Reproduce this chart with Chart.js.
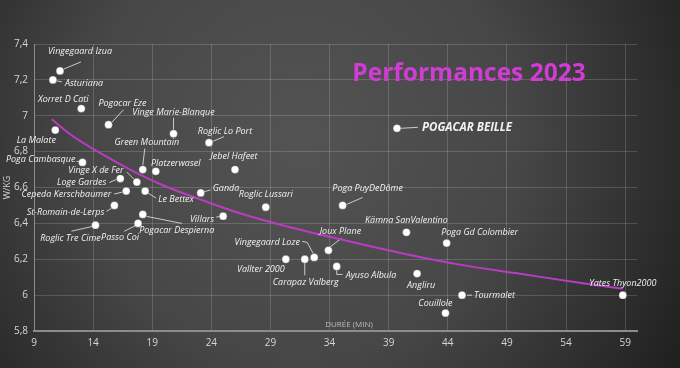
<!DOCTYPE html>
<html>
<head>
<meta charset="utf-8">
<script src="https://cdn.jsdelivr.net/npm/chart.js@4.4.1/dist/chart.umd.min.js"></script>
<style>
  body { margin: 0; background: #2a2a2a; }
  #wrap { width: 680px; height: 368px; }
</style>
</head>
<body>
<div id="wrap"><canvas id="perfChart" width="680" height="368"></canvas></div>
<script>
// climbs, duration in minutes, power in W/kg
var climbs = ['Vingegaard Izua', 'Asturiana', 'Xorret D Cati', 'Pogacar Eze', 'Vinge Marie-Blanque',
    'Roglic Lo Port', 'La Malate', 'Green Mountain', 'Poga Cambasque', 'Platzerwasel',
    'Vinge X de Fer', 'Loge Gardes', 'Cepeda Kerschbaumer', 'Le Bettex', 'St-Romain-de-Lerps',
    'Pogacar Despierna', 'Passo Coi', 'Roglic Tre Cime', 'Ganda', 'Villars',
    'Jebel Hafeet', 'Roglic Lussari', 'Poga PuyDeDôme', 'Kämna SanValentino', 'Poga Gd Colombier',
    'Joux Plane', 'Vingegaard Loze', 'Vallter 2000', 'Carapaz Valberg', 'Ayuso Albula',
    'Angliru', 'Couillole', 'Tourmalet', 'Yates Thyon2000', 'POGACAR BEILLE'];
var durations = [11.2, 10.6, 13.0, 15.3, 20.8,
    23.8, 10.8, 18.2, 13.1, 19.3,
    17.7, 16.3, 16.8, 18.4, 15.8,
    18.2, 17.8, 14.2, 23.1, 25.0,
    26.0, 28.6, 35.1, 40.5, 43.9,
    33.9, 32.7, 30.3, 31.9, 34.6,
    41.4, 43.8, 45.2, 58.8, 39.7];
var wkg = [7.25, 7.2, 7.04, 6.95, 6.9,
    6.85, 6.92, 6.7, 6.74, 6.69,
    6.63, 6.65, 6.58, 6.58, 6.5,
    6.45, 6.4, 6.39, 6.57, 6.44,
    6.7, 6.49, 6.5, 6.35, 6.29,
    6.25, 6.21, 6.2, 6.2, 6.16,
    6.12, 5.9, 6.0, 6.0, 6.93];

// trend curve
var trendX = [10.5, 12, 14, 16, 18, 20, 23, 26, 30, 35, 40, 45, 50, 55, 58.8];
var trendY = [6.98, 6.90, 6.815, 6.74, 6.67, 6.61, 6.535, 6.465, 6.39, 6.31, 6.235, 6.17, 6.12, 6.07, 6.035];

var xTicks = [9, 14, 19, 24, 29, 34, 39, 44, 49, 54, 59];
var yTicks = [5.8, 6, 6.2, 6.4, 6.6, 6.8, 7, 7.2, 7.4];

// label placement: [dx, dy, align, leader line points relative to the point]
var labelPos = {
    'Vingegaard Izua': [20, -19, 'center', [[4, -2], [21, -9]]],
    'Asturiana': [12, 4, 'left', [[4, 1], [9, 2]]],
    'Xorret D Cati': [-18, -9, 'center'],
    'Pogacar Eze': [14, -21, 'center', [[3, -2], [15, -15]]],
    'Vinge Marie-Blanque': [0, -21, 'center', [[0, -4], [0, -16]]],
    'Roglic Lo Port': [16, -11, 'center', [[3, -1], [15, -6]]],
    'La Malate': [-19, 10, 'center'],
    'Green Mountain': [4, -27, 'center', [[0, -4], [2, -21]]],
    'Poga Cambasque': [-7, -3, 'right', [[-6, -1], [-3, -1]]],
    'Platzerwasel': [20, -8, 'center'],
    'Vinge X de Fer': [-41, -12, 'center', [[-10, -10], [-3, -3]]],
    'Loge Gardes': [-14, 4, 'right', [[-11, 4], [-4, 1]]],
    'Cepeda Kerschbaumer': [-15, 3, 'right', [[-12, 3], [-4, 1]]],
    'Le Bettex': [13, 8, 'left', [[3, 2], [11, 7]]],
    'St-Romain-de-Lerps': [-10, 7, 'right', [[-8, 6], [-3, 3]]],
    'Pogacar Despierna': [34, 16, 'center', [[4, 2], [39, 9]]],
    'Passo Coi': [-18, 14, 'center', [[-2, 2], [-14, 8]]],
    'Roglic Tre Cime': [-25, 13, 'center', [[-2, 1], [-24, 6]]],
    'Ganda': [12, -4, 'left', [[3, -1], [10, -3]]],
    'Villars': [-9, 3, 'right', [[-7, 1], [-3, 0]]],
    'Jebel Hafeet': [-1, -13, 'center'],
    'Roglic Lussari': [0, -13, 'center'],
    'Poga PuyDeDôme': [25, -17, 'center', [[4, -1], [20, -8]]],
    'Kämna SanValentino': [0, -12, 'center'],
    'Poga Gd Colombier': [33, -11, 'center'],
    'Joux Plane': [12, -19, 'center', [[0, -2], [13, -12]]],
    'Vingegaard Loze': [-47, -15, 'center', [[-12, -16], [-7, -15], [-1, -4]]],
    'Vallter 2000': [-25, 10, 'center'],
    'Carapaz Valberg': [1, 23, 'center', [[0, 3], [0, 16]]],
    'Ayuso Albula': [9, 9, 'left', [[0, 3], [0, 8], [6, 8]]],
    'Angliru': [4, 12, 'center'],
    'Couillole': [-10, -10, 'center'],
    'Tourmalet': [12, 0, 'left', [[5, 0], [10, 0]]],
    'Yates Thyon2000': [0, -12, 'center'],
    'POGACAR BEILLE': [25, -1, 'left', [[4, 0], [21, -1]]]
};

var points = durations.map(function (d, i) {
    return { x: d, y: wkg[i] };
});
var trend = trendX.map(function (d, i) {
    return { x: d, y: trendY[i] };
});

var backdrop = {
    id: 'backdrop',
    beforeDraw: function (chart) {
        var c = chart.ctx;
        var g = c.createRadialGradient(300, 140, 10, 300, 140, 470);
        g.addColorStop(0, '#535353');
        g.addColorStop(0.45, '#474747');
        g.addColorStop(1, '#1a1a1a');
        c.save();
        c.fillStyle = g;
        c.fillRect(0, 0, chart.width, chart.height);
        c.restore();
    }
};

var pointLabels = {
    id: 'pointLabels',
    beforeDatasetsDraw: function (chart) {
        var c = chart.ctx;
        var meta = chart.getDatasetMeta(0);
        c.save();
        c.strokeStyle = 'rgba(225,225,225,0.85)';
        c.lineWidth = 1;
        meta.data.forEach(function (el, i) {
            var p = labelPos[climbs[i]];
            if (!p || !p[3]) return;
            c.beginPath();
            p[3].forEach(function (q, k) {
                if (k === 0) c.moveTo(el.x + q[0], el.y + q[1]);
                else c.lineTo(el.x + q[0], el.y + q[1]);
            });
            c.stroke();
        });
        c.restore();
    },
    afterDatasetsDraw: function (chart) {
        var c = chart.ctx;
        var meta = chart.getDatasetMeta(0);
        c.save();
        c.fillStyle = '#f2f2f2';
        c.textBaseline = 'middle';
        meta.data.forEach(function (el, i) {
            var name = climbs[i];
            var p = labelPos[name] || [0, -12, 'center'];
            if (name === 'POGACAR BEILLE') {
                c.font = 'italic bold 11.5px "Open Sans"';
            } else {
                c.font = 'italic 9px "Open Sans"';
            }
            c.textAlign = p[2];
            c.fillText(name, el.x + p[0], el.y + p[1]);
        });

        // title and x axis caption
        c.textAlign = 'center';
        c.font = 'bold 24.5px "Open Sans"';
        c.fillStyle = '#d03cd4';
        c.fillText('Performances 2023', 469, 74);
        c.font = '8px "Open Sans"';
        c.fillStyle = '#bdbdbd';
        c.fillText('DURÉE (MIN)', 349, 325);
        c.restore();
    }
};

var ctx = document.getElementById('perfChart').getContext('2d');
var perfChart = new Chart(ctx, {
    type: 'scatter',
    data: {
        datasets: [{
            label: 'Montées',
            data: points,
            backgroundColor: '#ffffff',
            borderColor: 'rgba(40,40,40,0.6)',
            borderWidth: 0.5,
            pointRadius: 3.9,
            pointHoverRadius: 3.9,
            order: 1
        }, {
            label: 'Tendance',
            type: 'line',
            data: trend,
            borderColor: 'rgb(186, 60, 196)',
            borderWidth: 2,
            pointRadius: 0,
            fill: false,
            cubicInterpolationMode: 'monotone',
            order: 2
        }]
    },
    options: {
        responsive: false,
        animation: false,
        layout: { padding: { top: 44, right: 43, left: 0, bottom: 0 } },
        plugins: {
            legend: { display: false },
            tooltip: { enabled: false }
        },
        scales: {
            x: {
                type: 'linear',
                min: 9,
                max: 60,
                afterBuildTicks: function (s) {
                    s.ticks = xTicks.map(function (v) { return { value: v }; });
                },
                afterFit: function (s) { s.height = 37; },
                grid: { color: 'rgba(255,255,255,0.16)', drawTicks: false, lineWidth: 1 },
                border: { color: '#8c8c8c', width: 2 },
                ticks: { color: '#d6d6d6', font: { size: 10, family: 'Open Sans' }, padding: 6, maxRotation: 0 }
            },
            y: {
                min: 5.8,
                max: 7.4,
                afterBuildTicks: function (s) {
                    s.ticks = yTicks.map(function (v) { return { value: v }; });
                },
                afterFit: function (s) { s.width = 34; },
                grid: { color: 'rgba(255,255,255,0.16)', drawTicks: false, lineWidth: 1 },
                border: { color: '#8c8c8c', width: 1 },
                title: {
                    display: true,
                    text: 'W/KG',
                    color: '#cfcfcf',
                    font: { size: 9, family: 'Open Sans' },
                    padding: { top: 2, bottom: 0 }
                },
                ticks: {
                    color: '#d6d6d6',
                    font: { size: 10, family: 'Open Sans' },
                    padding: 6,
                    callback: function (v) {
                        return String(Math.round(v * 10) / 10).replace('.', ',');
                    }
                }
            }
        }
    },
    plugins: [backdrop, pointLabels]
});
</script>
</body>
</html>
